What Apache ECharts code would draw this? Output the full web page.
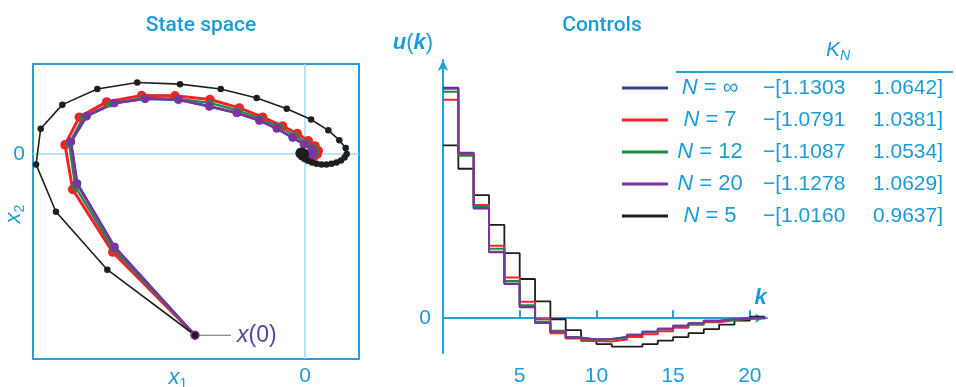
<!DOCTYPE html>
<html>
<head>
<meta charset="utf-8">
<script src="https://cdn.jsdelivr.net/npm/echarts@6/dist/echarts.min.js"></script>
<style>
  html, body { margin: 0; padding: 0; background: #fff; }
  #main { width: 956px; height: 387px; }
</style>
</head>
<body>
<div id="main"></div>
<script>
// horizons and their gains K_N
var horizons = ['∞', '7', '12', '20', '5'];
var gainK1 = [1.1303, 1.0791, 1.1087, 1.1278, 1.0160];
var gainK2 = [1.0642, 1.0381, 1.0534, 1.0629, 0.9637];

// state space trajectories (x1, x2)
var x1Inf = [-1, -1.730, -2.070, -2.126, -1.985, -1.733, -1.452, -1.150, -0.868, -0.620, -0.414, -0.256, -0.112, -0.010, 0.060, 0.075, 0.055, 0.027, 0.010, 0.002, 0];
var x2Inf = [-1, -0.512, -0.162, 0.068, 0.209, 0.281, 0.305, 0.300, 0.263, 0.227, 0.185, 0.141, 0.091, 0.055, 0.027, 0.004, -0.011, -0.011, -0.005, 0, 0];
var x1N7 = [-1, -1.748, -2.112, -2.182, -2.052, -1.803, -1.485, -1.182, -0.864, -0.597, -0.385, -0.203, -0.070, 0.030, 0.091, 0.121, 0.112, 0.082, 0.045, 0.018, 0];
var x2N7 = [-1, -0.541, -0.195, 0.051, 0.204, 0.288, 0.324, 0.322, 0.301, 0.255, 0.204, 0.155, 0.113, 0.073, 0.045, 0.018, 0, -0.014, -0.016, -0.011, -0.005];
var x1N12 = [-1, -1.741, -2.089, -2.145, -2.015, -1.773, -1.470, -1.166, -0.867, -0.609, -0.400, -0.230, -0.091, 0.011, 0.076, 0.098, 0.083, 0.054, 0.027, 0.010, 0.002];
var x2N12 = [-1, -0.527, -0.180, 0.058, 0.204, 0.277, 0.310, 0.306, 0.283, 0.241, 0.195, 0.149, 0.102, 0.064, 0.036, 0.011, -0.005, -0.012, -0.010, -0.005, -0.002];
var x1N20 = [-1, -1.734, -2.075, -2.130, -1.988, -1.736, -1.455, -1.152, -0.870, -0.621, -0.415, -0.257, -0.112, -0.009, 0.061, 0.076, 0.055, 0.027, 0.010, 0.002, 0];
var x2N20 = [-1, -0.515, -0.164, 0.067, 0.209, 0.282, 0.306, 0.301, 0.264, 0.228, 0.186, 0.142, 0.091, 0.055, 0.027, 0.004, -0.011, -0.011, -0.005, 0, 0];
var x1N5 = [-1, -1.797, -2.264, -2.445, -2.403, -2.206, -1.888, -1.525, -1.136, -0.766, -0.439, -0.166, 0.055, 0.212, 0.312, 0.370, 0.379, 0.359, 0.327, 0.286, 0.241, 0.195, 0.150, 0.105, 0.064, 0.027, -0.005, -0.032, -0.050, -0.058, -0.050, -0.035, -0.018, -0.004, 0.006, 0.004, -0.006, -0.015, -0.012, -0.002];
var x2N5 = [-1, -0.638, -0.318, -0.057, 0.140, 0.273, 0.359, 0.395, 0.386, 0.359, 0.310, 0.250, 0.191, 0.131, 0.077, 0.033, 0, -0.019, -0.036, -0.046, -0.054, -0.057, -0.057, -0.054, -0.046, -0.037, -0.027, -0.016, -0.005, 0.005, 0.014, 0.018, 0.016, 0.010, 0.002, -0.008, -0.012, -0.006, 0.004, 0.008];

// controls u(k), k = 0..20
var uInf = [2.32, 1.665, 1.105, 0.665, 0.345, 0.11, -0.048, -0.137, -0.196, -0.216, -0.21, -0.19, -0.165, -0.135, -0.105, -0.075, -0.05, -0.025, -0.01, 0, 0.005];
var uN7 = [2.2, 1.65, 1.14, 0.73, 0.41, 0.165, -0.01, -0.15, -0.205, -0.23, -0.235, -0.215, -0.19, -0.16, -0.13, -0.095, -0.065, -0.04, -0.02, -0.005, 0];
var uN12 = [2.28, 1.635, 1.13, 0.70, 0.375, 0.13, -0.035, -0.125, -0.19, -0.215, -0.215, -0.195, -0.17, -0.14, -0.11, -0.08, -0.055, -0.03, -0.015, -0.005, 0];
var uN20 = [2.31, 1.66, 1.11, 0.67, 0.35, 0.115, -0.045, -0.135, -0.195, -0.215, -0.21, -0.19, -0.165, -0.135, -0.105, -0.075, -0.05, -0.025, -0.01, 0, 0.005];
var uN5 = [1.74, 1.505, 1.24, 0.94, 0.655, 0.395, 0.17, -0.01, -0.12, -0.21, -0.26, -0.285, -0.285, -0.26, -0.225, -0.19, -0.15, -0.11, -0.065, -0.025, 0.015];

var kTicks = [5, 10, 15, 20];

var stateX1 = [x1Inf, x1N7, x1N12, x1N20, x1N5];
var stateX2 = [x2Inf, x2N7, x2N12, x2N20, x2N5];
var controls = [uInf, uN7, uN12, uN20, uN5];

var lineColors = ['#3b3d8e', '#f5222a', '#1c8c3c', '#7b35a3', '#1e1e1e'];
var stateWidth = [2.5, 3, 2.2, 2.5, 1.6];
var dotSize = [8, 9.5, 7, 8.5, 6.5];
var stateOrder = [0, 1, 2, 3, 4];   // black on top (x(0) dot, origin blob)
var controlOrder = [4, 0, 1, 2, 3];

var blue = '#23a0dc';
var textBlue = '#1d9bd8';
var font = '"Liberation Sans", Arial, sans-serif';

var chart = echarts.init(document.getElementById('main'));

// widths for centering "N = .." in the legend column
var ctx = document.createElement('canvas').getContext('2d');
function textW(f, s) { ctx.font = f; return ctx.measureText(s).width; }

var rich = {
  n: { fontStyle: 'italic', fontSize: 22, fontFamily: font, color: textBlue, lineHeight: 24 },
  e: { fontSize: 22, fontFamily: font, color: textBlue, lineHeight: 24 },
  a: { fontSize: 21, fontFamily: font, color: textBlue, lineHeight: 24, width: 108 },
  b: { fontSize: 21, fontFamily: font, color: textBlue, lineHeight: 24, width: 72, align: 'right' }
};
horizons.forEach(function (h, i) {
  var w = textW('italic 22px ' + font, 'N') + textW('22px ' + font, ' = ' + h);
  var pad = Math.max(0.5, 37 - w / 2);
  rich['p' + i] = { width: pad, fontSize: 21, lineHeight: 24 };
  rich['q' + i] = { width: Math.max(0.5, 90 - pad - w), fontSize: 21, lineHeight: 24 };
});

var series = [];
stateOrder.forEach(function (i) {
  var pts = stateX1[i].map(function (v, j) { return [v, stateX2[i][j]]; });
  var s = {
    name: horizons[i],
    type: 'line',
    xAxisIndex: 0,
    yAxisIndex: 0,
    data: pts,
    symbol: 'circle',
    symbolSize: dotSize[i],
    itemStyle: { color: lineColors[i] },
    lineStyle: { color: lineColors[i], width: stateWidth[i] },
    silent: true
  };
  if (i === 0) {
    s.markLine = {
      silent: true,
      z: 1,
      symbol: ['none', 'none'],
      label: { show: false },
      lineStyle: { color: '#a6d8f2', width: 1.5, type: 'solid' },
      data: [{ xAxis: 0 }, { yAxis: 0 }]
    };
  }
  series.push(s);
});
controlOrder.forEach(function (i) {
  var u = controls[i];
  var pts = u.map(function (v, k) { return [k, v]; });
  pts.push([u.length, u[u.length - 1]]);
  series.push({
    name: horizons[i],
    type: 'line',
    xAxisIndex: 1,
    yAxisIndex: 1,
    step: 'end',
    data: pts,
    showSymbol: false,
    symbol: 'none',
    itemStyle: { color: lineColors[i] },
    lineStyle: { color: lineColors[i], width: i === 4 ? 1.8 : 2 },
    silent: true
  });
});

var option = {
  animation: false,
  backgroundColor: '#fff',
  title: [
    { text: 'State space', left: 196, top: 10, textAlign: 'center',
      textStyle: { color: textBlue, fontFamily: 'Roboto', fontWeight: 500, fontSize: 21 } },
    { text: 'Controls', left: 597, top: 10, textAlign: 'center',
      textStyle: { color: textBlue, fontFamily: 'Roboto', fontWeight: 500, fontSize: 21 } }
  ],
  legend: {
    data: horizons,
    orient: 'vertical',
    left: 622,
    top: 76,
    padding: 0,
    itemWidth: 46,
    itemHeight: 3,
    itemGap: 8,
    icon: 'rect',
    selectedMode: false,
    textStyle: { fontSize: 21, fontFamily: font, color: textBlue, lineHeight: 24, rich: rich },
    formatter: function (name) {
      var i = horizons.indexOf(name);
      return '{p' + i + '| }{n|N}{e| = ' + name + '}{q' + i + '| }{a|\u2212[' +
        gainK1[i].toFixed(4) + '}{b|' + gainK2[i].toFixed(4) + ']}';
    }
  },
  grid: [
    { left: 33, top: 64, width: 326, height: 298, show: true, borderColor: blue, borderWidth: 2, backgroundColor: 'transparent' },
    { left: 443, top: 60, width: 324, height: 295 }
  ],
  xAxis: [
    {
      type: 'value', gridIndex: 0, min: -2.4727, max: 0.4909,
      axisLine: { show: false }, axisTick: { show: false }, splitLine: { show: false },
      axisLabel: { customValues: [0], margin: 7, fontSize: 21, fontFamily: font, color: textBlue }
    },
    {
      type: 'value', gridIndex: 1, min: 0, max: 21.12,
      axisLine: { show: true, onZero: true, symbol: ['none', 'arrow'], symbolSize: [7, 8], symbolOffset: [0, -4],
        lineStyle: { color: blue, width: 2 } },
      axisTick: { show: true, customValues: kTicks, inside: true, length: 8, lineStyle: { color: blue, width: 2 } },
      splitLine: { show: false },
      axisLabel: { customValues: kTicks, margin: 13, fontSize: 21, fontFamily: font, color: textBlue }
    }
  ],
  yAxis: [
    {
      type: 'value', gridIndex: 0, min: -1.1311, max: 0.4973,
      axisLine: { show: false }, axisTick: { show: false }, splitLine: { show: false },
      axisLabel: { customValues: [0], margin: 8, fontSize: 21, fontFamily: font, color: textBlue }
    },
    {
      type: 'value', gridIndex: 1, min: -0.35, max: 2.6,
      axisLine: { show: true, onZero: false, symbol: ['none', 'arrow'], symbolSize: [8, 11],
        lineStyle: { color: blue, width: 2 } },
      axisTick: { show: false }, splitLine: { show: false },
      axisLabel: { customValues: [0], margin: 12, fontSize: 21, fontFamily: font, color: textBlue }
    }
  ],
  series: series
};

chart.setOption(option);

// annotations placed through the chart's own scales
var p0 = chart.convertToPixel({ xAxisIndex: 0, yAxisIndex: 0 }, [x1N5[0], x2N5[0]]);
var kAxisEnd = chart.convertToPixel({ xAxisIndex: 1, yAxisIndex: 1 }, [20.7, 0]);

chart.setOption({
  graphic: [
    { type: 'line', silent: true, z: 1,
      shape: { x1: p0[0] + 4, y1: p0[1], x2: p0[0] + 36, y2: p0[1] },
      style: { stroke: '#6a6a6a', lineWidth: 1.2 } },
    { type: 'text', silent: true, x: p0[0] + 42, y: p0[1],
      style: { text: '{i|x}{r|(0)}', verticalAlign: 'middle', align: 'left',
        rich: { i: { fontStyle: 'italic', fontSize: 23, fontFamily: font, fill: '#4b4a9e' },
                r: { fontSize: 23, fontFamily: font, fill: '#4b4a9e' } } } },
    { type: 'text', silent: true, x: 178, y: 378,
      style: { text: '{i|x}{s|1}', align: 'center', verticalAlign: 'middle',
        rich: { i: { fontStyle: 'italic', fontSize: 22, fontFamily: font, fill: textBlue, lineHeight: 26, verticalAlign: 'middle' },
                s: { fontSize: 14, fontFamily: font, fill: textBlue, lineHeight: 26, verticalAlign: 'bottom' } } } },
    { type: 'text', silent: true, x: 14, y: 214, rotation: Math.PI / 2,
      style: { text: '{i|x}{s|2}', align: 'center', verticalAlign: 'middle',
        rich: { i: { fontStyle: 'italic', fontSize: 22, fontFamily: font, fill: textBlue, lineHeight: 26, verticalAlign: 'middle' },
                s: { fontSize: 14, fontFamily: font, fill: textBlue, lineHeight: 26, verticalAlign: 'bottom' } } } },
    { type: 'text', silent: true, x: 413, y: 43,
      style: { text: '{i|u}{r|(}{i|k}{r|)}', align: 'center', verticalAlign: 'middle',
        rich: { i: { fontStyle: 'italic', fontWeight: 'bold', fontSize: 22, fontFamily: font, fill: textBlue },
                r: { fontSize: 22, fontFamily: font, fill: textBlue } } } },
    { type: 'text', silent: true, x: kAxisEnd[0], y: kAxisEnd[1] - 20,
      style: { text: 'k', align: 'center', verticalAlign: 'middle', fontStyle: 'italic', fontWeight: 'bold',
        fontSize: 22, fontFamily: font, fill: textBlue } },
    { type: 'text', silent: true, x: 838, y: 50,
      style: { text: '{i|K}{s|N}', align: 'center', verticalAlign: 'middle',
        rich: { i: { fontStyle: 'italic', fontSize: 21, fontFamily: font, fill: textBlue, lineHeight: 26, verticalAlign: 'middle' },
                s: { fontStyle: 'italic', fontSize: 14, fontFamily: font, fill: textBlue, lineHeight: 26, verticalAlign: 'bottom' } } } },
    { type: 'line', silent: true,
      shape: { x1: 676, y1: 72, x2: 953, y2: 72 },
      style: { stroke: blue, lineWidth: 2 } }
  ]
});
</script>
</body>
</html>
